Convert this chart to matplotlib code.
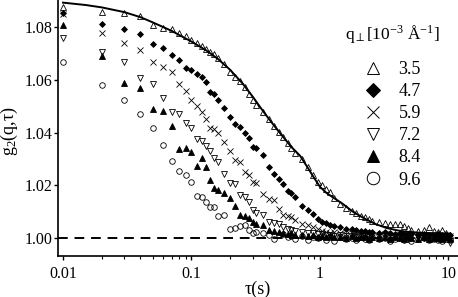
import matplotlib
matplotlib.use('Agg')
import matplotlib.pyplot as plt
from matplotlib.lines import Line2D

plt.rcParams['font.family'] = ['Liberation Serif', 'DejaVu Serif']
plt.rcParams['mathtext.fontset'] = 'custom'
plt.rcParams['mathtext.rm'] = 'Liberation Serif'
plt.rcParams['mathtext.it'] = 'Liberation Serif:italic'

# lag times (s), multi-tau grid
tau = [0.01, 0.02, 0.03, 0.04, 0.05, 0.06, 0.07, 0.08, 0.09, 0.10, 0.11, 0.12, 0.13, 0.14, 0.15, 0.16,
       0.18, 0.20, 0.22, 0.24, 0.26, 0.28, 0.30, 0.32,
       0.36, 0.40, 0.44, 0.48, 0.52, 0.56, 0.60, 0.64,
       0.72, 0.80, 0.88, 0.96, 1.04, 1.12, 1.20, 1.28,
       1.44, 1.60, 1.76, 1.92, 2.08, 2.24, 2.40, 2.56,
       2.88, 3.20, 3.52, 3.84, 4.16, 4.48, 4.80, 5.12,
       5.76, 6.40, 7.04, 7.68, 8.32, 8.96, 9.60, 10.24]

q_labels = ['3.5', '4.7', '5.9', '7.2', '8.4', '9.6']

g_35 = [1.0876, 1.0859, 1.0853, 1.0844, 1.0810, 1.0798, 1.0792, 1.0777, 1.0768, 1.0752, 1.0741, 1.0730, 1.0716, 1.0707, 1.0698, 1.0682,
        1.0660, 1.0631, 1.0611, 1.0596, 1.0572, 1.0548, 1.0524, 1.0506,
        1.0478, 1.0450, 1.0425, 1.0402, 1.0382, 1.0360, 1.0340, 1.0322,
        1.0300, 1.0268, 1.0238, 1.0212, 1.0200, 1.0185, 1.0176, 1.0150,
        1.0130, 1.0115, 1.0102, 1.0094, 1.0085, 1.0080, 1.0072, 1.0066,
        1.0060, 1.0056, 1.0054, 1.0053, 1.0052, 1.0046, 1.0038, 1.0030,
        1.0026, 1.0032, 1.0040, 1.0028, 1.0022, 1.0030, 1.0018, 1.0012]

g_47 = [1.0852, 1.0811, 1.0792, 1.0773, 1.0735, 1.0720, 1.0694, 1.0675, 1.0646, 1.0638, 1.0622, 1.0610, 1.0592, 1.0555, 1.0547, 1.0524,
        1.0492, 1.0460, 1.0433, 1.0422, 1.0400, 1.0378, 1.0346, 1.0343,
        1.0315, 1.0271, 1.0242, 1.0222, 1.0205, 1.0180, 1.0170, 1.0157,
        1.0122, 1.0105, 1.0090, 1.0072, 1.0062, 1.0056, 1.0050, 1.0046,
        1.0040, 1.0036, 1.0033, 1.0030, 1.0028, 1.0026, 1.0024, 1.0022,
        1.0020, 1.0022, 1.0018, 1.0016, 1.0018, 1.0015, 1.0016, 1.0014,
        1.0012, 1.0016, 1.0012, 1.0010, 1.0014, 1.0012, 1.0010, 1.0012]

g_59 = [1.0850, 1.0777, 1.0741, 1.0713, 1.0669, 1.0650, 1.0631, 1.0584, 1.0559, 1.0524, 1.0501, 1.0479, 1.0450, 1.0416, 1.0412, 1.0400,
        1.0365, 1.0330, 1.0296, 1.0287, 1.0252, 1.0239, 1.0214, 1.0208,
        1.0166, 1.0148, 1.0144, 1.0110, 1.0087, 1.0085, 1.0081, 1.0068,
        1.0052, 1.0050, 1.0042, 1.0034, 1.0028, 1.0024, 1.0020, 1.0022,
        1.0018, 1.0016, 1.0020, 1.0014, 1.0012, 1.0016, 1.0010, 1.0013,
        1.0011, 1.0015, 1.0009, 1.0012, 1.0010, 1.0014, 1.0008, 1.0011,
        1.0010, 1.0006, 1.0012, 1.0008, 1.0010, 1.0005, 1.0009, 1.0007]

g_72 = [1.0760, 1.0707, 1.0669, 1.0606, 1.0583, 1.0532, 1.0477, 1.0471, 1.0435, 1.0416, 1.0374, 1.0368, 1.0348, 1.0330, 1.0305, 1.0290,
        1.0243, 1.0208, 1.0204, 1.0163, 1.0157, 1.0138, 1.0106, 1.0094,
        1.0087, 1.0062, 1.0056, 1.0052, 1.0040, 1.0036, 1.0030, 1.0028,
        1.0022, 1.0018, 1.0020, 1.0014, 1.0016, 1.0010, 1.0012, 1.0008,
        1.0010, 1.0006, 1.0009, 1.0004, 1.0007, 1.0010, 1.0005, 1.0008,
        1.0004, 1.0009, 1.0006, 1.0003, 1.0008, 1.0005, 1.0002, 1.0006,
        1.0004, 1.0001, 1.0006, 1.0003, 0.9998, 1.0004, 1.0001, 0.9982]

g_84 = [1.0808, 1.0690, 1.0589, 1.0568, 1.0490, 1.0482, 1.0425, 1.0338, 1.0340, 1.0326, 1.0272, 1.0303, 1.0270, 1.0220, 1.0191, 1.0181,
        1.0170, 1.0153, 1.0120, 1.0087, 1.0082, 1.0077, 1.0060, 1.0052,
        1.0048, 1.0030, 1.0026, 1.0022, 1.0020, 1.0014, 1.0018, 1.0012,
        1.0010, 1.0006, 1.0012, 1.0004, 1.0008, 1.0002, 1.0006, 1.0003,
        1.0005, 1.0001, 1.0006, 0.9999, 1.0004, 1.0002, 0.9998, 1.0003,
        1.0001, 1.0004, 0.9998, 1.0002, 1.0000, 0.9997, 1.0003, 1.0000,
        0.9998, 1.0002, 0.9996, 1.0001, 0.9999, 0.9995, 1.0002, 0.9998]

g_96 = [1.0669, 1.0580, 1.0524, 1.0469, 1.0416, 1.0352, 1.0292, 1.0255, 1.0239, 1.0211, 1.0159, 1.0156, 1.0137, 1.0118, 1.0118, 1.0083,
        1.0086, 1.0034, 1.0037, 1.0045, 1.0049, 1.0030, 1.0018, 1.0022,
        1.0020, 1.0012, 0.9995, 1.0010, 1.0015, 1.0002, 1.0008, 0.9998,
        1.0006, 0.9993, 1.0004, 0.9999, 1.0008, 0.9994, 1.0002, 0.9990,
        1.0004, 0.9996, 1.0000, 0.9992, 1.0005, 0.9997, 0.9991, 1.0002,
        0.9995, 1.0000, 0.9989, 0.9997, 1.0003, 0.9993, 0.9998, 0.9990,
        0.9996, 1.0001, 0.9992, 0.9998, 0.9994, 0.9988, 0.9997, 0.9993]

# fit line through the 3.5 data
fit_tau = [0.01, 0.015, 0.02, 0.03, 0.04, 0.05, 0.07, 0.1, 0.13, 0.16, 0.2, 0.25, 0.3, 0.35, 0.4, 0.45,
           0.5, 0.6, 0.7, 0.8, 0.9, 1.0, 1.13, 1.3, 1.5, 1.8, 2.2, 2.7, 3.3, 4.0, 4.7, 6.0, 8.0, 10.24]
fit_g = [1.0893, 1.0884, 1.0875, 1.0857, 1.0838, 1.0818, 1.0786, 1.0745, 1.0712, 1.0680, 1.0638, 1.0586, 1.0536, 1.0490, 1.0452, 1.0420,
         1.0392, 1.0345, 1.0312, 1.0268, 1.0228, 1.0194, 1.0170, 1.0150, 1.0130, 1.0100, 1.0075, 1.0053, 1.0038, 1.0029, 1.0024, 1.0020, 1.0018, 1.0017]

series = [g_35, g_47, g_59, g_72, g_84, g_96]
markers = ['^', 'D', 'x', 'v', '^', 'o']
filled = [False, True, False, False, True, False]
sizes = [4.0, 3.0, 4.0, 4.0, 4.0, 4.0]
leg_sizes = [9, 7.5, 9, 9, 9, 9]

fig = plt.figure(figsize=(4.58, 2.97), dpi=100)
ax = fig.add_axes([0.1266, 0.138, 0.8734, 0.862])

for vals, m, f, s in zip(series, markers, filled, sizes):
    ax.plot(tau, vals, linestyle='none', marker=m, markersize=s,
            markerfacecolor='black' if f else 'none', markeredgecolor='black',
            markeredgewidth=0.6)

ax.plot(fit_tau, fit_g, color='black', lw=1.4)
ax.axhline(1.0, color='black', lw=1.4, dashes=(5, 3.5))

ax.set_xscale('log')
ax.set_xlim(0.00914, 11.86)
ax.set_ylim(0.99317, 1.0903)
ax.set_yticks([1.00, 1.02, 1.04, 1.06, 1.08])
ax.set_yticklabels(['1.00', '1.02', '1.04', '1.06', '1.08'])
ax.set_xticks([0.01, 0.1, 1, 10])
ax.set_xticklabels(['0.01', '0.1', '1', '10'])

ax.spines['top'].set_visible(False)
ax.spines['right'].set_visible(False)
ax.spines['left'].set_linewidth(1.2)
ax.spines['bottom'].set_linewidth(1.2)
ax.tick_params(axis='both', which='major', direction='out', length=3.2, width=1.0, labelsize=11.5)
ax.tick_params(axis='x', which='minor', direction='out', length=2.3, width=0.8)
ax.tick_params(axis='x', which='major', pad=4)
ax.tick_params(axis='y', which='major', pad=1)

ax.set_xlabel('τ(s)', fontsize=13)
ax.set_ylabel(r'g$_2$(q,τ)', fontsize=13)
ax.xaxis.set_label_coords(0.5, -0.095)
ax.yaxis.set_label_coords(-0.095, 0.49)

handles = []
for m, f, s in zip(markers, filled, leg_sizes):
    handles.append(Line2D([], [], linestyle='none', marker=m, markersize=s,
                          markerfacecolor='black' if f else 'none',
                          markeredgecolor='black', markeredgewidth=0.7))
leg = ax.legend(handles, q_labels, title=r'q$_\perp$[10$^{-3}$ Å$^{-1}$]',
                frameon=False, fontsize=13, title_fontsize=12.5,
                loc='upper left', bbox_to_anchor=(0.70, 0.94),
                handlelength=1.0, handletextpad=0.9, labelspacing=0.28,
                borderaxespad=0)
leg._legend_box.sep = 12

fig.savefig('out.png', dpi=100)
